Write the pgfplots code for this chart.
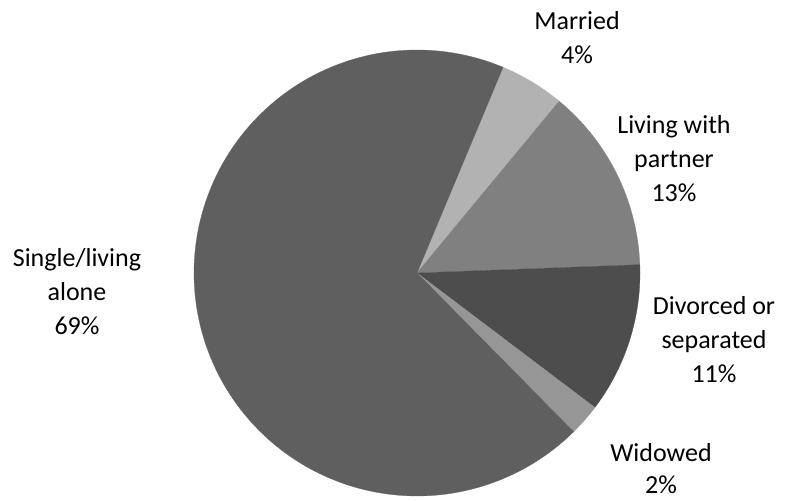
\documentclass[border=0pt]{standalone}
\usepackage{pgfplots}
\pgfplotsset{compat=1.18}
\usepackage{fontspec}
\setmainfont{Carlito}
\definecolor{cSingle}{HTML}{5F5F5F}
\definecolor{cMarried}{HTML}{B2B2B2}
\definecolor{cLiving}{HTML}{808080}
\definecolor{cDivorced}{HTML}{4D4D4D}
\definecolor{cWidowed}{HTML}{969696}
% slice shares (percent), clockwise from the Married slice
\def\vMarried{4.7}
\def\vLiving{13.4}
\def\vDivorced{10.9}
\def\vWidowed{2.3}
\def\vSingle{68.7}
\def\startangle{67.3}
\pgfmathsetmacro{\aA}{\startangle}
\pgfmathsetmacro{\aB}{\aA-3.6*\vMarried}
\pgfmathsetmacro{\aC}{\aB-3.6*\vLiving}
\pgfmathsetmacro{\aD}{\aC-3.6*\vDivorced}
\pgfmathsetmacro{\aE}{\aD-3.6*\vWidowed}
\pgfmathsetmacro{\aF}{\aE-3.6*\vSingle}
\def\cx{417}\def\cy{229}\def\R{223}
\begin{document}
\begin{tikzpicture}
\begin{axis}[
  width=596.25pt, height=376.5pt, scale only axis,
  xmin=0, xmax=795, ymin=0, ymax=502,
  hide axis, clip=false, anchor=south west, at={(0,0)},
]
\addplot[fill=cMarried, draw=cMarried, line width=0.2pt, domain=\aB:\aA, samples=40, variable=\t]
  ({\cx+\R*cos(\t)},{\cy+\R*sin(\t)}) -- (axis cs:\cx,\cy) -- cycle;
\addplot[fill=cLiving, draw=cLiving, line width=0.2pt, domain=\aC:\aB, samples=60, variable=\t]
  ({\cx+\R*cos(\t)},{\cy+\R*sin(\t)}) -- (axis cs:\cx,\cy) -- cycle;
\addplot[fill=cDivorced, draw=cDivorced, line width=0.2pt, domain=\aD:\aC, samples=60, variable=\t]
  ({\cx+\R*cos(\t)},{\cy+\R*sin(\t)}) -- (axis cs:\cx,\cy) -- cycle;
\addplot[fill=cWidowed, draw=cWidowed, line width=0.2pt, domain=\aE:\aD, samples=20, variable=\t]
  ({\cx+\R*cos(\t)},{\cy+\R*sin(\t)}) -- (axis cs:\cx,\cy) -- cycle;
\addplot[fill=cSingle, draw=cSingle, line width=0.2pt, domain=\aF:\aE, samples=200, variable=\t]
  ({\cx+\R*cos(\t)},{\cy+\R*sin(\t)}) -- (axis cs:\cx,\cy) -- cycle;
\begin{scope}[every node/.style={align=center, font=\fontsize{19.5}{25.5}\selectfont, inner sep=0pt}]
\node at (axis cs:577,464.5) {Married\\4\%};
\node at (axis cs:674,343) {Living with\\partner\\13\%};
\node at (axis cs:714,162) {Divorced or\\separated\\11\%};
\node[font=\fontsize{19.5}{24}\selectfont] at (axis cs:661,33) {Widowed\\2\%};
\node at (axis cs:77,210) {Single/living\\alone\\69\%};
\end{scope}
\end{axis}
\pgfresetboundingbox
\path (0,0) rectangle (596.25pt,376.5pt);
\end{tikzpicture}
\end{document}
